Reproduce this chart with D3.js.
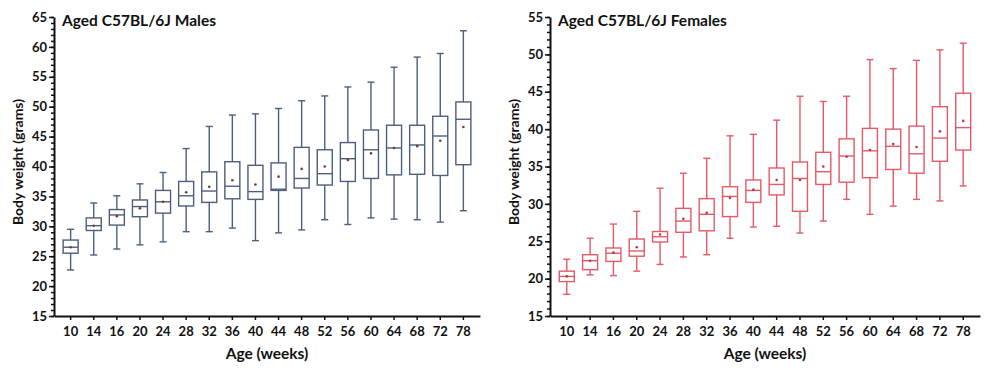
<!DOCTYPE html>
<html>
<head>
<meta charset="utf-8">
<script src="https://cdn.jsdelivr.net/npm/d3@7"></script>
<style>
  body { margin: 0; background: #fff; }
  svg text { font-family: Lato, "Open Sans", sans-serif; font-weight: 700; fill: #111; }
  .axis path, .axis line { stroke: #111; }
</style>
</head>
<body>
<svg id="chart"></svg>
<script>
// age groups (weeks)
var ages = ['10','14','16','20','24','28','32','36','40','44','48','52','56','60','64','68','72','78'];

// males
var maleMax    = [29.5,33.9,35.1,37.1,39.0,43.0,46.7,48.6,48.8,49.7,51.0,51.8,53.3,54.1,56.6,58.3,58.9,62.7];
var maleQ3     = [27.7,31.4,32.8,34.4,36.0,37.5,39.1,40.8,40.2,40.6,43.2,42.8,44.0,46.1,46.9,46.9,48.4,50.8];
var maleMedian = [26.5,30.1,31.9,33.3,34.1,35.1,35.9,36.7,35.8,36.2,38.0,38.8,41.3,42.8,43.1,43.6,45.1,47.9];
var maleQ1     = [25.5,29.3,30.2,31.6,32.2,33.4,34.0,34.6,34.5,36.0,36.4,36.9,37.5,38.0,38.6,38.7,38.5,40.3];
var maleMin    = [22.7,25.2,26.2,26.9,27.4,29.1,29.1,29.7,27.6,28.9,29.4,31.1,30.3,31.4,31.2,31.1,30.7,32.6];
var maleMean   = [26.5,30.1,31.7,33.0,34.1,35.7,36.6,37.7,37.0,38.3,39.6,40.0,41.1,42.2,43.1,43.4,44.3,46.6];

// females
var femaleMax    = [22.6,25.4,27.3,29.0,32.1,34.1,36.1,39.1,39.3,41.2,44.4,43.7,44.4,49.3,48.1,49.2,50.6,51.5];
var femaleQ3     = [21.0,23.2,24.1,25.3,26.3,29.4,30.7,32.3,33.2,34.8,35.6,36.9,38.7,40.1,40.0,40.4,43.0,44.8];
var femaleMedian = [20.3,22.4,23.4,23.7,25.6,27.7,28.6,31.0,31.8,32.6,33.4,34.3,36.4,37.1,37.7,36.7,38.8,40.2];
var femaleQ1     = [19.6,21.2,22.3,23.0,24.9,26.2,26.4,28.3,30.2,31.2,29.0,32.6,32.9,33.5,34.6,34.1,35.7,37.2];
var femaleMin    = [17.9,20.5,20.4,21.0,21.9,22.9,23.2,25.4,26.9,27.0,26.1,27.7,30.6,28.6,29.7,30.6,30.4,32.4];
var femaleMean   = [20.3,22.4,23.5,24.2,25.9,28.0,28.8,30.8,31.9,33.2,33.2,35.0,36.3,37.2,38.0,37.6,39.7,41.1];

var svg = d3.select('#chart')
  .attr('width', 1000)
  .attr('height', 372);

function makeRows(mn, q1, med, q3, mx, mean) {
  return ages.map(function(a, i) {
    return {age: a, min: mn[i], q1: q1[i], med: med[i], q3: q3[i], max: mx[i], mean: mean[i]};
  });
}

function drawPanel(opt) {
  var x = d3.scaleBand()
    .domain(ages)
    .range([opt.left, opt.right])
    .paddingInner(0)
    .paddingOuter(0.22);

  var y = d3.scaleLinear()
    .domain(opt.yDomain)
    .range([316, 17]);

  var g = svg.append('g');

  // minor ticks on y
  g.append('g')
    .attr('class', 'axis')
    .attr('transform', 'translate(' + opt.left + ',0)')
    .call(d3.axisLeft(y).tickValues(d3.range(opt.yDomain[0], opt.yDomain[1] + 1, 1)).tickSize(3).tickFormat(''))
    .call(function(s) { s.select('.domain').remove(); s.selectAll('line').attr('stroke-width', 1.5); });

  // major y axis
  g.append('g')
    .attr('class', 'axis')
    .attr('transform', 'translate(' + opt.left + ',0)')
    .call(d3.axisLeft(y).tickValues(d3.range(opt.yDomain[0], opt.yDomain[1] + 1, 5)).tickSize(5).tickSizeOuter(0).tickPadding(2))
    .call(function(s) {
      s.select('.domain').attr('stroke-width', 2);
      s.selectAll('line').attr('stroke-width', 1.5);
      s.selectAll('text').style('font-size', '13px');
    });

  // x axis
  g.append('g')
    .attr('class', 'axis')
    .attr('transform', 'translate(0,316)')
    .call(d3.axisBottom(x).tickSize(4).tickSizeOuter(0).tickPadding(7))
    .call(function(s) {
      s.select('.domain').attr('stroke-width', 2);
      s.selectAll('line').attr('stroke-width', 1.5);
      s.selectAll('text').style('font-size', '13px');
    });

  var bw = 15, cap = 7;
  var boxes = g.selectAll('.box')
    .data(opt.rows)
    .enter().append('g')
    .attr('class', 'box')
    .attr('transform', function(d) { return 'translate(' + (x(d.age) + x.bandwidth() / 2) + ',0)'; })
    .attr('stroke', opt.color)
    .attr('stroke-width', 1.4)
    .attr('fill', 'none');

  boxes.append('line')
    .attr('y1', function(d) { return y(d.max); })
    .attr('y2', function(d) { return y(d.q3); });
  boxes.append('line')
    .attr('y1', function(d) { return y(d.q1); })
    .attr('y2', function(d) { return y(d.min); });
  boxes.append('line')
    .attr('x1', -cap / 2).attr('x2', cap / 2)
    .attr('y1', function(d) { return y(d.max); })
    .attr('y2', function(d) { return y(d.max); });
  boxes.append('line')
    .attr('x1', -cap / 2).attr('x2', cap / 2)
    .attr('y1', function(d) { return y(d.min); })
    .attr('y2', function(d) { return y(d.min); });
  boxes.append('rect')
    .attr('x', -bw / 2)
    .attr('width', bw)
    .attr('y', function(d) { return y(d.q3); })
    .attr('height', function(d) { return y(d.q1) - y(d.q3); })
    .attr('fill', '#fff');
  boxes.append('line')
    .attr('x1', -bw / 2).attr('x2', bw / 2)
    .attr('y1', function(d) { return y(d.med); })
    .attr('y2', function(d) { return y(d.med); });
  boxes.append('circle')
    .attr('cy', function(d) { return y(d.mean); })
    .attr('r', 1.3)
    .attr('stroke', 'none')
    .attr('fill', opt.dot);

  // title
  g.append('text')
    .attr('x', opt.left + 8)
    .attr('y', 26)
    .style('font-size', '15.5px')
    .text(opt.title);

  // y axis title
  g.append('text')
    .attr('transform', 'translate(' + (opt.left - 31) + ',162) rotate(-90)')
    .attr('text-anchor', 'middle')
    .style('font-size', '14px')
    .text('Body weight (grams)');

  // x axis title
  g.append('text')
    .attr('x', (opt.left + opt.right) / 2)
    .attr('y', 359)
    .attr('text-anchor', 'middle')
    .style('font-size', '15.5px')
    .text('Age (weeks)');
}

drawPanel({
  left: 54, right: 480, yDomain: [15, 65],
  rows: makeRows(maleMin, maleQ1, maleMedian, maleQ3, maleMax, maleMean),
  color: '#4e5e7c', dot: '#7a3a3a',
  title: 'Aged C57BL/6J Males'
});

drawPanel({
  left: 550, right: 980, yDomain: [15, 55],
  rows: makeRows(femaleMin, femaleQ1, femaleMedian, femaleQ3, femaleMax, femaleMean),
  color: '#e45a66', dot: '#b03a48',
  title: 'Aged C57BL/6J Females'
});
</script>
</body>
</html>
